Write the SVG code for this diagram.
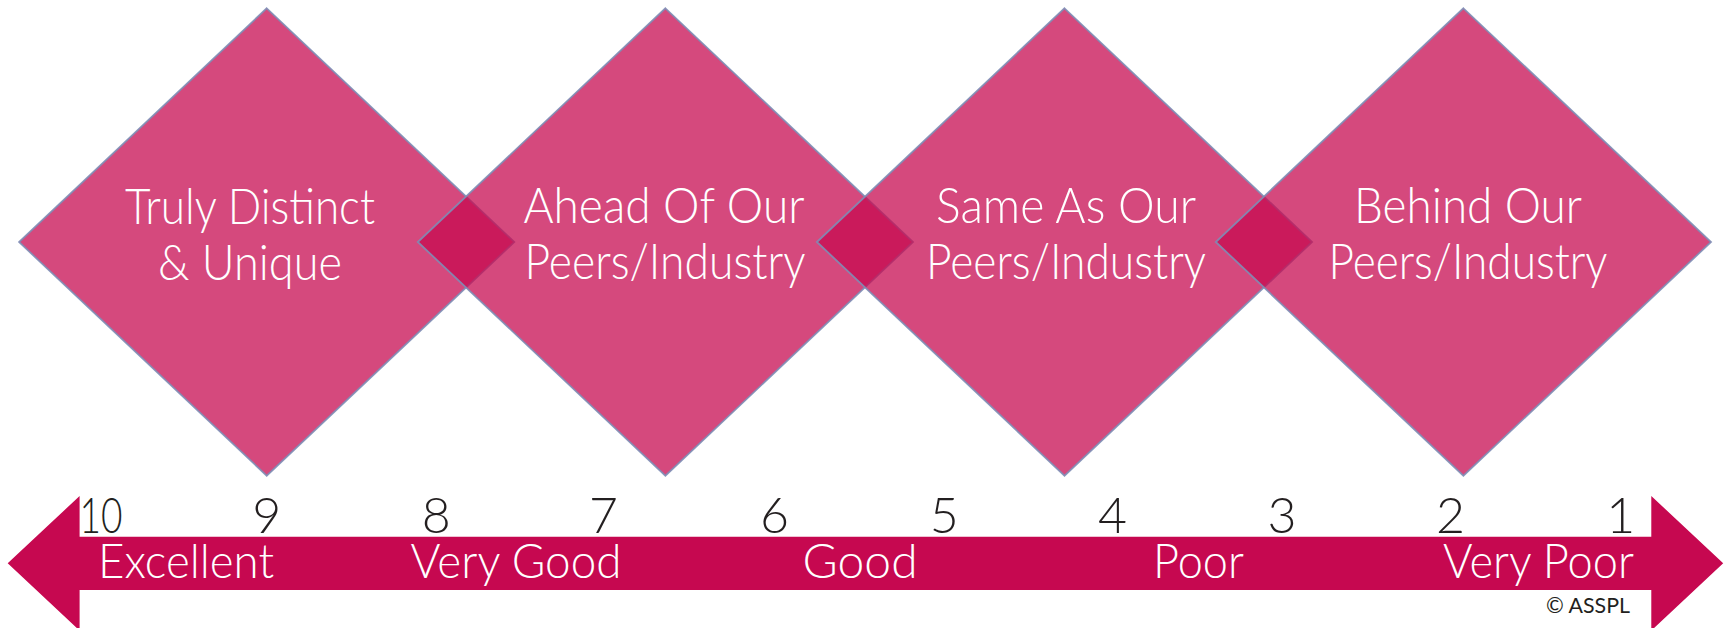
<svg xmlns="http://www.w3.org/2000/svg" width="1727" height="628" viewBox="0 0 1727 628">
<style>
.dia{fill:#C60A50;fill-opacity:0.74;stroke:#7E8DB5;stroke-width:1.8;stroke-opacity:0.9}
.lbl{font-family:Lato,"Liberation Sans",sans-serif;font-weight:300;font-size:50px;fill:#FFFFFF;text-anchor:middle}
.num{font-family:Lato,"Liberation Sans",sans-serif;font-weight:300;font-size:50px;fill:#231F20;text-anchor:middle}
.scale{font-family:Lato,"Liberation Sans",sans-serif;font-weight:300;font-size:48px;fill:#FFFFFF}
.copy{font-family:Lato,"Liberation Sans",sans-serif;font-weight:400;font-size:22px;fill:#231F20}
</style>
<rect width="1727" height="628" fill="#FFFFFF"/>
<g id="diamond1">
<polygon class="dia" points="266.7,8.3 514.3,242 266.7,475.7 19.1,242"/>
<text class="lbl" x="250" y="224" textLength="250" lengthAdjust="spacingAndGlyphs">Truly Distinct</text>
<text class="lbl" x="250" y="280" textLength="184" lengthAdjust="spacingAndGlyphs">&amp; Unique</text>
</g>
<g id="diamond2">
<polygon class="dia" points="665.4,8.3 913,242 665.4,475.7 417.8,242"/>
<text class="lbl" x="664" y="223" textLength="281" lengthAdjust="spacingAndGlyphs">Ahead Of Our</text>
<text class="lbl" x="665" y="279" textLength="281" lengthAdjust="spacingAndGlyphs">Peers/Industry</text>
</g>
<g id="diamond3">
<polygon class="dia" points="1064.5,8.3 1312.1,242 1064.5,475.7 816.9,242"/>
<text class="lbl" x="1066" y="223" textLength="260" lengthAdjust="spacingAndGlyphs">Same As Our</text>
<text class="lbl" x="1066" y="279" textLength="280" lengthAdjust="spacingAndGlyphs">Peers/Industry</text>
</g>
<g id="diamond4">
<polygon class="dia" points="1463.4,8.3 1711,242 1463.4,475.7 1215.8,242"/>
<text class="lbl" x="1468" y="223" textLength="228" lengthAdjust="spacingAndGlyphs">Behind Our</text>
<text class="lbl" x="1468" y="279" textLength="279" lengthAdjust="spacingAndGlyphs">Peers/Industry</text>
</g>
<g id="connectors">
<polygon fill="#C60850" points="7.7,563.3 79.6,496 79.6,536.7 1651.3,536.7 1651.3,496 1723.2,563.3 1651.3,630.6 1651.3,590 79.6,590 79.6,630.6"/>
</g>
<g id="scale-numbers">
<text class="num" x="101" y="533" textLength="43" lengthAdjust="spacingAndGlyphs">10</text>
<text class="num" x="266.7" y="533">9</text>
<text class="num" x="436.3" y="533">8</text>
<text class="num" x="603.6" y="533">7</text>
<text class="num" x="774.6" y="533">6</text>
<text class="num" x="944.2" y="533">5</text>
<text class="num" x="1112.6" y="533">4</text>
<text class="num" x="1282" y="533">3</text>
<text class="num" x="1450.4" y="533">2</text>
<text class="num" x="1620.7" y="533">1</text>
</g>
<g id="scale-labels">
<text class="scale" x="98" y="578" textLength="176" lengthAdjust="spacingAndGlyphs">Excellent</text>
<text class="scale" x="410.5" y="578" textLength="211" lengthAdjust="spacingAndGlyphs">Very Good</text>
<text class="scale" x="802.6" y="578" textLength="115" lengthAdjust="spacingAndGlyphs">Good</text>
<text class="scale" x="1153" y="578" textLength="91" lengthAdjust="spacingAndGlyphs">Poor</text>
<text class="scale" x="1443" y="578" textLength="191" lengthAdjust="spacingAndGlyphs">Very Poor</text>
<text class="copy" x="1546" y="613" textLength="84" lengthAdjust="spacingAndGlyphs">© ASSPL</text>
</g>
</svg>
